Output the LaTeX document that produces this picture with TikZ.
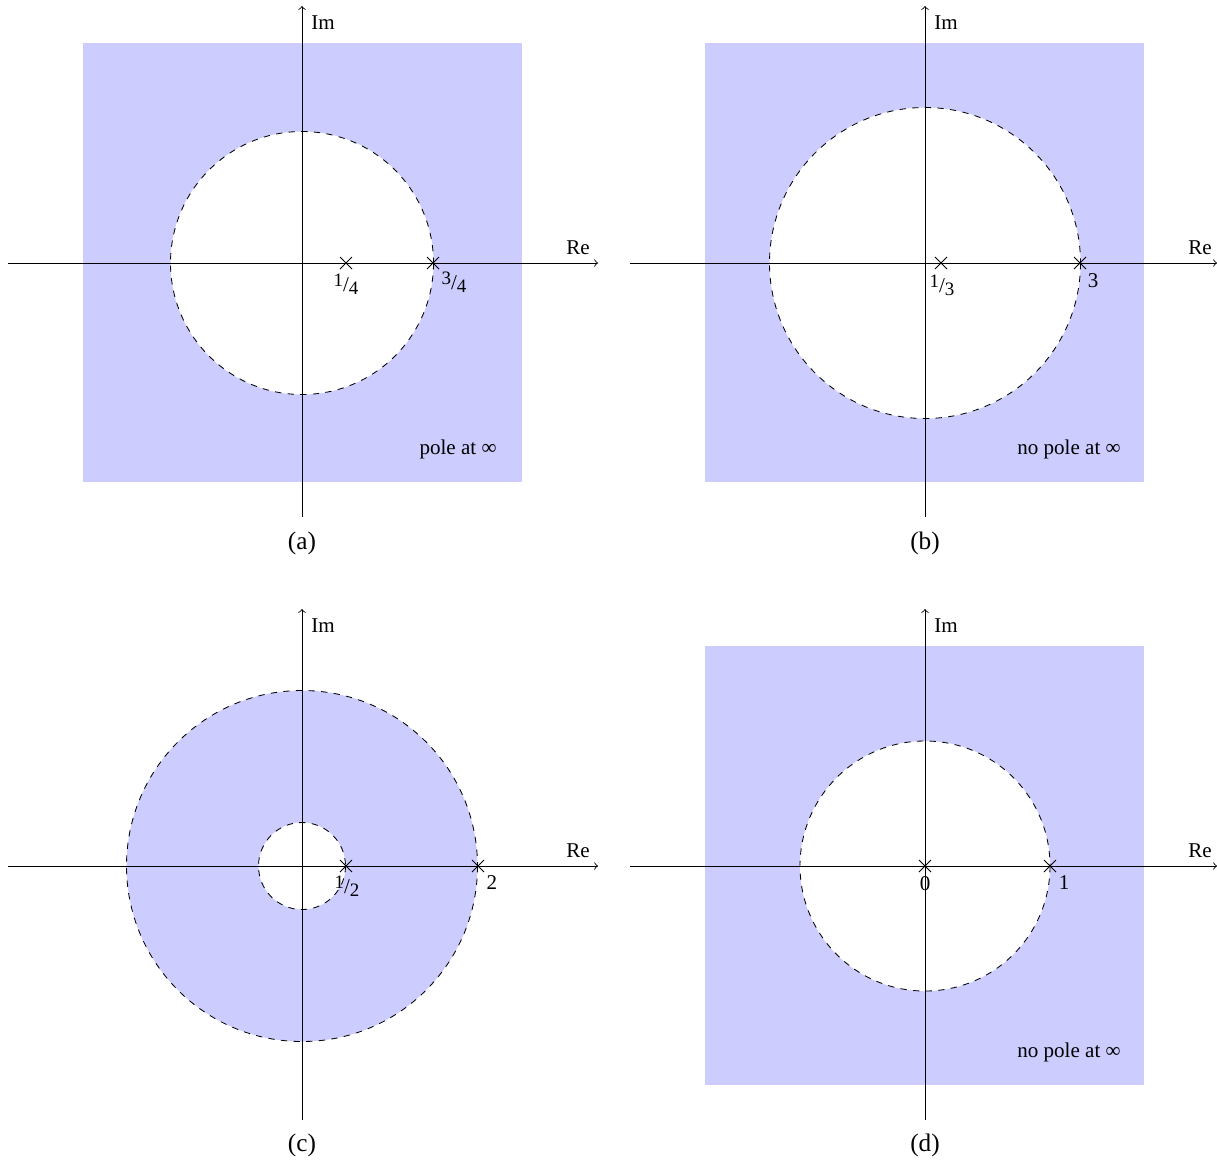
\documentclass[tikz,border=0pt]{standalone}
\usepackage{fontspec}
\setmainfont{Liberation Serif}
\newcommand{\myfr}[2]{\raisebox{.5ex}{\small #1}/\raisebox{-.3ex}{\small #2}}
\tikzset{
  axis/.style={line width=0.4pt, ->},
  region/.style={fill=blue!20, draw=none},
  bound/.style={dashed, line width=0.4pt},
  pole/.style={line width=0.45pt},
  lbl/.style={inner sep=0pt, font=\normalsize},
  captionlbl/.style={inner sep=0pt, font=\large},
}
\newcommand{\polemark}[2]{\draw[pole] (#1-6,#2-6) -- (#1+6,#2+6) (#1-6,#2+6) -- (#1+6,#2-6);}
\begin{document}
\begin{tikzpicture}[x={(0.475pt,0)}, y={(0,-0.475pt)}]
\useasboundingbox (0,0) rectangle (1217,1163);
% ---------- (a)
\fill[region] (83,43) rectangle (522,482);
\fill[white] (302,263) circle[radius=131.5];
\draw[bound] (302,263) circle[radius=131.5];
\coordinate (ax0) at (8,263); \coordinate (ax1) at (598,263);
\coordinate (ay0) at (302,517); \coordinate (ay1) at (302,6);
\draw[axis] (ax0) -- (ax1);
\draw[axis] (ay0) -- (ay1);
\node[lbl, anchor=west] (aim) at (311,23) {Im};
\node[lbl] (are) at (578,248) {Re};
\polemark{346}{263}
\polemark{433}{263}
\node[lbl] (ap1) at (346,284) {\myfr{1}{4}};
\node[lbl] (ap2) at (454,282) {\myfr{3}{4}};
\node[lbl] (ainf) at (458,449) {pole at ∞};
\node[captionlbl] (acap) at (302,543) {(a)};
% ---------- (b)
\fill[region] (705,43) rectangle (1144,482);
\fill[white] (925,263) circle[radius=155.5];
\draw[bound] (925,263) circle[radius=155.5];
\coordinate (bx0) at (630,263); \coordinate (bx1) at (1217,263);
\coordinate (by0) at (925,517); \coordinate (by1) at (925,6);
\draw[axis] (bx0) -- (bx1);
\draw[axis] (by0) -- (by1);
\node[lbl, anchor=west] (bim) at (934,23) {Im};
\node[lbl] (bre) at (1200,248) {Re};
\polemark{941}{263}
\polemark{1080}{263}
\node[lbl] (bp1) at (942,285) {\myfr{1}{3}};
\node[lbl] (bp2) at (1093,281) {3};
\node[lbl] (binf) at (1069,449) {no pole at ∞};
\node[captionlbl] (bcap) at (925,543) {(b)};
% ---------- (c)
\fill[region, even odd rule] (302,866) circle[radius=175.5] (302,866) circle[radius=43.5];
\draw[bound] (302,866) circle[radius=175.5];
\draw[bound] (302,866) circle[radius=43.5];
\coordinate (cx0) at (8,866); \coordinate (cx1) at (598,866);
\coordinate (cy0) at (302,1120); \coordinate (cy1) at (302,609);
\draw[axis] (cx0) -- (cx1);
\draw[axis] (cy0) -- (cy1);
\node[lbl, anchor=west] (cim) at (311,626) {Im};
\node[lbl] (cre) at (578,851) {Re};
\polemark{346}{866}
\polemark{478}{866}
\node[lbl] (cp1) at (347,886) {\myfr{1}{2}};
\node[lbl] (cp2) at (492,883) {2};
\node[captionlbl] (ccap) at (302,1145) {(c)};
% ---------- (d)
\fill[region] (705,646) rectangle (1144,1085);
\fill[white] (925,866) circle[radius=125];
\draw[bound] (925,866) circle[radius=125];
\coordinate (dx0) at (630,866); \coordinate (dx1) at (1217,866);
\coordinate (dy0) at (925,1120); \coordinate (dy1) at (925,609);
\draw[axis] (dx0) -- (dx1);
\draw[axis] (dy0) -- (dy1);
\node[lbl, anchor=west] (dim) at (934,626) {Im};
\node[lbl] (dre) at (1200,851) {Re};
\polemark{925}{866}
\polemark{1050}{866}
\node[lbl] (dp1) at (925,884) {0};
\node[lbl] (dp2) at (1064,883) {1};
\node[lbl] (dinf) at (1069,1052) {no pole at ∞};
\node[captionlbl] (dcap) at (925,1145) {(d)};
\end{tikzpicture}
\end{document}
